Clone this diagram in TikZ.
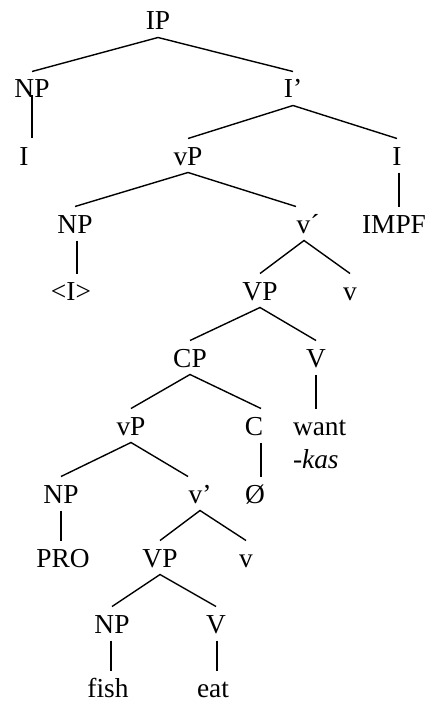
\documentclass[tikz,border=0pt]{standalone}
\usepackage{fontspec}
\setmainfont{Liberation Serif}
\begin{document}
\begin{tikzpicture}[x=1bp,y=-1bp,
  lab/.style={anchor=base, inner sep=0pt, outer xsep=0pt, outer ysep=7.5bp,
    text height=19bp, text depth=0pt, font=\fontsize{27.5}{30}\selectfont},
  edge/.style={line width=1.4bp}]
\useasboundingbox (0,0) rectangle (431,702);

% labels, placed by baseline
\node[lab] (ip)    at (158,30)  {IP};
\node[lab] (np1)   at (32,98)   {NP};
\node[lab] (ibar)  at (293,98)  {I’};
\node[lab] (i1)    at (24,165)  {I};
\node[lab] (vp1)   at (188,165) {vP};
\node[lab] (i2)    at (397,165) {I};
\node[lab] (np2)   at (75,233)  {NP};
\node[lab] (vbar1) at (308,233) {v´};
\node[lab] (impf)  at (394,233) {IMPF};
\node[lab] (trace) at (71,300)  {<I>};
\node[lab] (vp2)   at (260,300) {VP};
\node[lab] (v1)    at (350,300) {v};
\node[lab] (cp)    at (190,367) {CP};
\node[lab] (vv1)   at (316,367) {V};
\node[lab] (vp3)   at (131,435) {vP};
\node[lab] (c)     at (254,435) {C};
\node[lab,anchor=base west] (want) at (293,435) {want};
\node[lab,anchor=base west] (kas)  at (293,468) {\itshape -kas};
\node[lab] (np3)   at (61,503)  {NP};
\node[lab] (vbar2) at (200,503) {v’};
\node[lab] (null)  at (255,503) {Ø};
\node[lab] (pro)   at (63,567)  {PRO};
\node[lab] (vp4)   at (160,567) {VP};
\node[lab] (v2)    at (246,567) {v};
\node[lab] (np4)   at (112,633) {NP};
\node[lab] (vv2)   at (216,633) {V};
\node[lab] (fish)  at (108,697) {fish};
\node[lab] (eat)   at (213,697) {eat};

% branches
\draw[edge] (np1.north) -- (ip.south) -- (ibar.north);
\draw[edge] (vp1.north) -- (ibar.south) -- (i2.north);
\draw[edge] (np2.north) -- (vp1.south) -- ([xshift=-12bp]vbar1.north);
\draw[edge] (vp2.north) -- ([xshift=-4bp]vbar1.south) -- (v1.north);
\draw[edge] (cp.north) -- (vp2.south) -- (vv1.north);
\draw[edge] (vp3.north) -- (cp.south) -- ([xshift=7bp]c.north);
\draw[edge] (np3.north) -- (vp3.south) -- ([xshift=-12bp]vbar2.north);
\draw[edge] (vp4.north) -- (vbar2.south) -- (v2.north);
\draw[edge] (np4.north) -- (vp4.south) -- (vv2.north);

% unary branches
\draw[edge] ([yshift=10bp]np1.south) -- (np1.south |- i1.north);
\draw[edge] ([xshift=2bp]i2.south) -- ([xshift=2bp]i2.south |- impf.north);
\draw[edge] ([xshift=2bp]np2.south) -- ([xshift=2bp]np2.south |- trace.north);
\draw[edge] (vv1.south) -- (vv1.south |- want.north);
\draw[edge] ([xshift=7bp]c.south) -- ([xshift=7bp]c.south |- null.north);
\draw[edge] (np3.south) -- (np3.south |- pro.north);
\draw[edge] ([xshift=-1bp]np4.south) -- ([xshift=-1bp]np4.south |- fish.north);
\draw[edge] ([xshift=1bp]vv2.south) -- ([xshift=1bp]vv2.south |- eat.north);
\end{tikzpicture}
\end{document}
